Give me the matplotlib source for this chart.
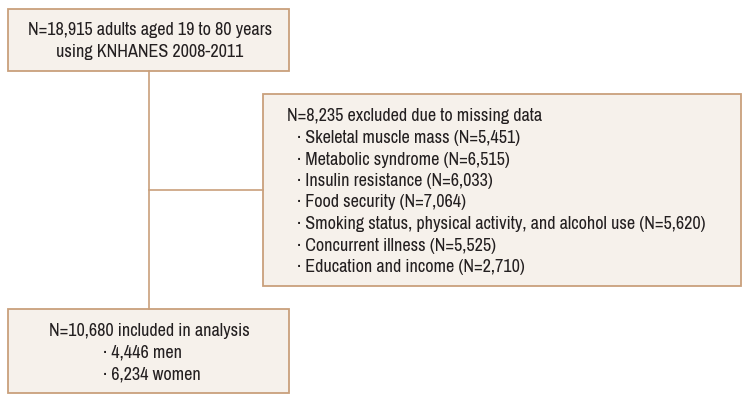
import matplotlib
matplotlib.use("Agg")
import matplotlib.pyplot as plt
from matplotlib.patches import Rectangle
from matplotlib import font_manager as fm

# box texts
top_lines = ["N=18,915 adults aged 19 to 80 years", "using KNHANES 2008-2011"]
excl_header = "N=8,235 excluded due to missing data"
excl_items = ["Skeletal muscle mass (N=5,451)",
              "Metabolic syndrome (N=6,515)",
              "Insulin resistance (N=6,033)",
              "Food security (N=7,064)",
              "Smoking status, physical activity, and alcohol use (N=5,620)",
              "Concurrent illness (N=5,525)",
              "Education and income (N=2,710)"]
final_header = "N=10,680 included in analysis"
final_items = ["4,446 men", "6,234 women"]

# pick a narrow face if one is there
fonts = fm.fontManager.ttflist
narrow = [f for f in fonts if 'Narrow' in f.name or 'Condensed' in f.name]
cond = [f for f in fonts if f.stretch in ('condensed', 'semi-condensed', 550, 500) and f.weight in ('normal', 400, 'regular')]
fam, stretch = 'DejaVu Sans', 'normal'
if narrow:
    fam = narrow[0].name
elif cond:
    fam, stretch = cond[0].name, 'condensed'
plt.rcParams['font.family'] = [fam, 'DejaVu Sans']
plt.rcParams['font.stretch'] = stretch

fill = '#f6f1eb'
edge = '#c9a07c'
tc = '#231f20'

fig = plt.figure(figsize=(7.5, 4.03), dpi=100)
ax = fig.add_axes([0, 0, 1, 1])
ax.set_xlim(0, 750)
ax.set_ylim(403, 0)
ax.axis('off')

# fit font size so the longest line spans what it does in the reference
r = fig.canvas.get_renderer()
probe = ax.text(0, 0, "\u00b7 " + excl_items[4], fontsize=12)
w = probe.get_window_extent(r).width
probe.remove()
fs = min(14, 12 * 408 / w)

def box(x0, y0, x1, y1):
    ax.add_patch(Rectangle((x0, y0), x1 - x0, y1 - y0, facecolor=fill,
                           edgecolor=edge, lw=1.3))

# connectors
ax.plot([149, 149], [71, 309], color=edge, lw=1.2)
ax.plot([149, 263], [190, 190], color=edge, lw=1.2)

box(8, 9, 289, 71)
box(263, 94, 741, 286)
box(8, 309, 289, 393)

for i, t in enumerate(top_lines):
    ax.text(150, 30 + i * 22, t, ha='center', va='center', fontsize=fs, color=tc)

ax.text(287, 116, excl_header, ha='left', va='center', fontsize=fs, color=tc)
for i, t in enumerate(excl_items):
    ax.text(297, 138 + i * 21.5, "\u00b7 " + t, ha='left', va='center', fontsize=fs, color=tc)

ax.text(149, 331, final_header, ha='center', va='center', fontsize=fs, color=tc)
for i, t in enumerate(final_items):
    ax.text(103, 353 + i * 21.5, "\u00b7 " + t, ha='left', va='center', fontsize=fs, color=tc)

fig.savefig('out.png', dpi=100, facecolor='white')
